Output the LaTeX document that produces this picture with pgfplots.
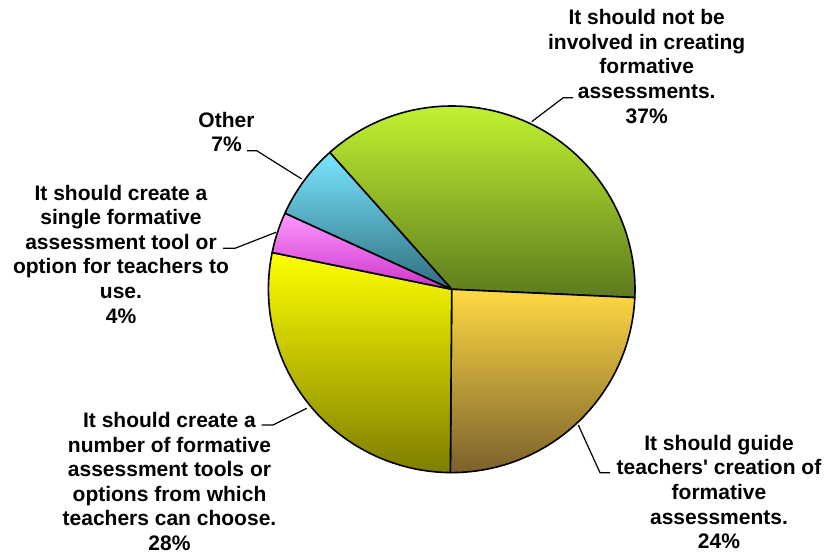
\documentclass[border=0pt]{standalone}
\usepackage{pgfplots}
\usepackage{pgfplotstable}
\pgfplotsset{compat=1.18}
\usepackage{fontspec}
\setmainfont{Liberation Sans}

% slice colours: light at the top, dark at the bottom
\definecolor{pie0top}{HTML}{CCFF33}
\definecolor{pie0bot}{HTML}{5C7A1E}
\definecolor{pie1top}{HTML}{FFD944}
\definecolor{pie1bot}{HTML}{7A602C}
\definecolor{pie2top}{HTML}{FFFF00}
\definecolor{pie2bot}{HTML}{7E7E00}
\definecolor{pie3top}{HTML}{FF99FF}
\definecolor{pie3bot}{HTML}{CC33CC}
\definecolor{pie4top}{HTML}{7AE6FF}
\definecolor{pie4bot}{HTML}{2E6E7E}

\tikzset{lbl/.style={font=\bfseries\fontsize{21}{24.6}\selectfont, align=center, inner sep=0pt}}

% shares in percent, clockwise from the first slice
\pgfplotstableread[col sep=comma]{
label,value
notinvolved,37.3
guide,24.4
number,28.1
single,3.6
other,6.6
}\piedata

\begin{document}
\begin{tikzpicture}
\begin{axis}[
    scale only axis,
    width=825pt, height=556pt,
    xmin=0, xmax=825, ymin=0, ymax=556,
    hide axis, clip=false,
]
\pgfplotstablegetrowsof{\piedata}
\pgfmathtruncatemacro{\nlast}{\pgfplotsretval-1}
\def\startangle{131.7}
\pgfplotsforeachungrouped \i in {0,...,\nlast}{%
  \pgfplotstablegetelem{\i}{value}\of\piedata
  \pgfmathsetmacro{\sweep}{3.6*\pgfplotsretval}%
  \pgfmathsetmacro{\endangle}{\startangle-\sweep}%
  \edef\temp{\noexpand\draw[line width=1.6pt, line join=round, top color=pie\i top, bottom color=pie\i bot]
    (axis cs:451.7,266.7) -- ++(\startangle:183.3pt)
    arc[start angle=\startangle, end angle=\endangle, radius=183.3pt] -- cycle;}%
  \temp
  \let\startangle\endangle
}

% leader lines
\addplot[black, line width=1.2pt, no marks] coordinates {(531.7,434.3) (563.3,458.3) (573,458.3)};
\addplot[black, line width=1.2pt, no marks] coordinates {(578.3,131) (600,83.3) (610,83.3)};
\addplot[black, line width=1.2pt, no marks] coordinates {(306.7,147.7) (273,131) (261.7,131)};
\addplot[black, line width=1.2pt, no marks] coordinates {(276,323.7) (235,307.7) (223,307.7)};
\addplot[black, line width=1.2pt, no marks] coordinates {(301.7,377) (256.7,405.3) (247,405.3)};

\node[lbl] at (axis cs:646.7,489.5) {It should not be\\involved in creating\\formative\\assessments.\\37\%};
\node[lbl] at (axis cs:719,64) {It should guide\\teachers\textquotesingle{} creation of\\formative\\assessments.\\24\%};
\node[lbl] at (axis cs:169.5,74.5) {It should create a\\number of formative\\assessment tools or\\options from which\\teachers can choose.\\28\%};
\node[lbl] at (axis cs:121,302) {It should create a\\single formative\\assessment tool or\\option for teachers to\\use.\\4\%};
\node[lbl] at (axis cs:226.5,424) {Other\\7\%};
\end{axis}
\pgfresetboundingbox
\path (current axis.south west) rectangle (current axis.north east);
\end{tikzpicture}
\end{document}
